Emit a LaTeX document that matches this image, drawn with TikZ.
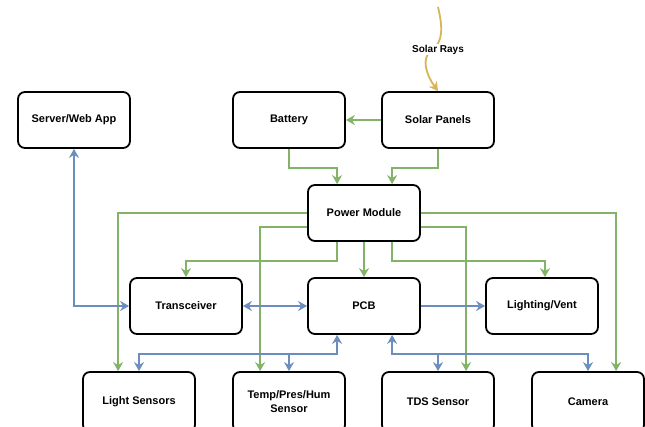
\documentclass[tikz,border=0pt]{standalone}
\usepackage{fontspec}
\setmainfont{Liberation Sans}
\usetikzlibrary{arrows.meta,calc}
\definecolor{gline}{HTML}{82B366}
\definecolor{bline}{HTML}{6C8EBF}
\definecolor{yline}{HTML}{D6B656}
\tikzset{
  box/.style={draw=black, line width=1.8pt, rounded corners=7pt, fill=white,
    minimum width=112pt, minimum height=56pt, inner sep=0pt, align=center,
    font=\bfseries\fontsize{11}{14}\selectfont},
  lowbox/.style={box, minimum height=60pt},
  tip/.tip={Stealth[length=9pt,width=10pt,inset=3pt]},
  gconn/.style={draw=gline, line width=1.8pt, -tip},
  bconn/.style={draw=bline, line width=1.8pt, -tip},
  bboth/.style={draw=bline, line width=1.8pt, tip-tip},
}
\begin{document}
\begin{tikzpicture}[x=1pt,y=-1pt]
\clip (0,0) rectangle (645,427);
\fill[white] (0,0) rectangle (645,427);

% nodes
\node[box] (server) at (74,120) {Server/Web App};
\node[box] (battery) at (289,120) {Battery};
\node[box] (solar) at (438,120) {Solar Panels};
\node[box] (pm) at (364,213) {Power Module};
\node[box] (trans) at (186,306) {Transceiver};
\node[box] (pcb) at (364,306) {PCB};
\node[box] (light) at (542,306) {Lighting/Vent};
\node[lowbox] (lsens) at (139,402) {Light Sensors};
\node[lowbox] (temp) at (289,402) {Temp/Pres/Hum\\Sensor};
\node[lowbox] (tds) at (438,402) {TDS Sensor};
\node[lowbox] (cam) at (588,402) {Camera};

% solar rays
\coordinate (raystart) at (438,7);
\draw[draw=yline, line width=1.8pt, -tip] (raystart) .. controls (443,28) and (443,42) .. (432,50)
  .. controls (420,58) and (427,76) .. (solar.north);
\node[fill=white, inner sep=1pt, font=\bfseries\fontsize{10}{12}\selectfont] (rays) at (438,49.5) {Solar Rays};

% green power connectors
\draw[gconn] (solar.west) -- (battery.east);
\draw[gconn] (battery.south) -- ++(0,19) -| ($(pm.north west)+(30,0)$);
\draw[gconn] (solar.south) -- ++(0,19) -| ($(pm.north west)+(85,0)$);
\draw[gconn] (pm.west) -| ($(lsens.north west)+(36,0)$);
\draw[gconn] (pm.east) -| ($(cam.north west)+(85,0)$);
\draw[gconn] ($(pm.west)+(0,14)$) -| ($(temp.north west)+(28,0)$);
\draw[gconn] ($(pm.east)+(0,14)$) -| ($(tds.north west)+(85,0)$);
\draw[gconn] ($(pm.south west)+(30,0)$) -- ++(0,19) -| (trans.north);
\draw[gconn] (pm.south) -- (pcb.north);
\draw[gconn] ($(pm.south west)+(85,0)$) -- ++(0,19) -| ($(light.north)+(3,0)$);

% blue data connectors
\draw[bboth] (server.south) |- (trans.west);
\draw[bboth] (trans.east) -- (pcb.west);
\draw[bconn] (pcb.east) -- (light.west);
\draw[bboth] ($(pcb.south west)+(30,0)$) -- ++(0,19) -| (lsens.north);
\draw[bconn] ($(pcb.south west)+(30,19)$) -| (temp.north);
\draw[bboth] ($(pcb.south west)+(85,0)$) -- ++(0,19) -| (cam.north);
\draw[bconn] ($(pcb.south west)+(85,19)$) -| (tds.north);
\end{tikzpicture}
\end{document}
